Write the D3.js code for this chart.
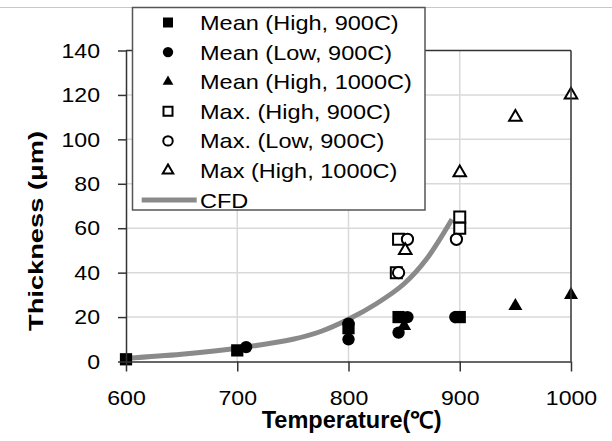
<!DOCTYPE html>
<html>
<head>
<meta charset="utf-8">
<script src="https://cdn.jsdelivr.net/npm/d3@7"></script>
<style>
  html, body { margin: 0; padding: 0; background: #fff; }
  svg { display: block; font-family: "Liberation Sans", Arial, sans-serif; }
</style>
</head>
<body>
<svg id="chart" width="612" height="441"></svg>
<script>
// ---------------- data ----------------
const xTicks = [600, 700, 800, 900, 1000];
const yTicks = [0, 20, 40, 60, 80, 100, 120, 140];

const meanHigh900T = [600, 700, 800, 845, 900];
const meanHigh900V = [1, 5, 15, 20, 20];

const meanLow900T = [708, 800, 800, 845, 853, 896];
const meanLow900V = [6.5, 17, 10, 13, 20, 20];

const meanHigh1000T = [850, 950, 1000];
const meanHigh1000V = [16, 25, 30];

const maxHigh900T = [845, 843, 900, 900];
const maxHigh900V = [55, 40, 65, 60];

const maxLow900T = [853, 845, 897];
const maxLow900V = [55, 40, 55];

const maxHigh1000T = [851, 900, 950, 1000];
const maxHigh1000V = [50, 85, 110, 120];

const cfdT = [600, 650, 700, 750, 775, 800, 825, 850, 870, 893];
const cfdV = [1.5, 3.3, 6, 10, 13.5, 19, 26, 35, 46, 64];

const legendLabels = ["Mean (High, 900C)", "Mean (Low, 900C)", "Mean (High, 1000C)",
                      "Max. (High, 900C)", "Max. (Low, 900C)", "Max (High, 1000C)", "CFD"];

// ---------------- layout ----------------
const svg = d3.select("#chart");
const x = d3.scaleLinear().domain([600, 1000]).range([126, 571]);
const y = d3.scaleLinear().domain([0, 140]).range([361.5, 50.5]);

function stretch(sel, f) {
  sel.each(function () {
    const w = this.getComputedTextLength();
    d3.select(this).attr("textLength", w * f).attr("lengthAdjust", "spacingAndGlyphs");
  });
}

// top thin line
svg.append("line").attr("x1", 0).attr("x2", 612).attr("y1", 7.5).attr("y2", 7.5)
  .attr("stroke", "#c8c8c8").attr("stroke-width", 1);

// gridlines
const grid = svg.append("g");
grid.selectAll(".gy").data(yTicks.filter(d => d > 0 && d < 140)).join("line")
  .attr("x1", x(600)).attr("x2", x(1000)).attr("y1", d => y(d)).attr("y2", d => y(d))
  .attr("stroke", "#d9d9d9").attr("stroke-width", 1.5);
grid.selectAll(".gx").data(xTicks.filter(d => d > 600 && d < 1000)).join("line")
  .attr("y1", y(0)).attr("y2", y(140)).attr("x1", d => x(d)).attr("x2", d => x(d))
  .attr("stroke", "#d9d9d9").attr("stroke-width", 1.5);

// CFD line
const cfd = cfdT.map((t, i) => [t, cfdV[i]]);
svg.append("path").datum(cfd)
  .attr("d", d3.line().x(d => x(d[0])).y(d => y(d[1])).curve(d3.curveCatmullRom))
  .attr("fill", "none").attr("stroke", "#8a8a8a").attr("stroke-width", 5);

// markers
function pts(T, V) { return T.map((t, i) => [t, V[i]]); }
const series = [
  { data: pts(meanLow900T, meanLow900V), type: d3.symbolCircle, size: 120, open: false },
  { data: pts(meanHigh900T, meanHigh900V), type: d3.symbolSquare, size: 150, open: false },
  { data: pts(meanHigh1000T, meanHigh1000V), type: d3.symbolTriangle, size: 85, open: false },
  { data: pts(maxHigh900T, maxHigh900V), type: d3.symbolSquare, size: 121, open: true },
  { data: pts(maxLow900T, maxLow900V), type: d3.symbolCircle, size: 100, open: true },
  { data: pts(maxHigh1000T, maxHigh1000V), type: d3.symbolTriangle, size: 68, open: true }
];
series.forEach(s => {
  svg.append("g").selectAll("path").data(s.data).join("path")
    .attr("transform", d => `translate(${x(d[0])},${y(d[1])})`)
    .attr("d", d3.symbol().type(s.type).size(s.size))
    .attr("fill", s.open ? "#fff" : "#000")
    .attr("stroke", "#000").attr("stroke-width", s.open ? 2 : 0);
});

// plot frame top/right
svg.append("line").attr("x1", x(600)).attr("x2", x(1000)).attr("y1", y(140)).attr("y2", y(140))
  .attr("stroke", "#333").attr("stroke-width", 1.5);
svg.append("line").attr("x1", x(1000)).attr("x2", x(1000)).attr("y1", y(140)).attr("y2", y(0))
  .attr("stroke", "#333").attr("stroke-width", 1.5);

// axes
const fontTick = 21;
const xAxis = svg.append("g").attr("transform", `translate(0,${y(0)})`)
  .call(d3.axisBottom(x).tickValues(xTicks).tickFormat(d3.format("d"))
    .tickSize(10).tickSizeOuter(0).tickPadding(18.6));
const yAxis = svg.append("g").attr("transform", `translate(${x(600)},0)`)
  .call(d3.axisLeft(y).tickValues(yTicks).tickFormat(d3.format("d"))
    .tickSize(8).tickSizeOuter(0).tickPadding(18));
[xAxis, yAxis].forEach(a => {
  a.select(".domain").attr("stroke", "#333").attr("stroke-width", 1.5);
  a.selectAll(".tick line").attr("stroke", "#333").attr("stroke-width", 1.5);
  a.selectAll(".tick text").attr("font-size", fontTick)
    .attr("font-family", "Liberation Sans, Arial, sans-serif").attr("fill", "#000");
});
stretch(xAxis.selectAll(".tick text"), 1.1);
stretch(yAxis.selectAll(".tick text"), 1.1);

// axis titles
const xt = svg.append("text").attr("x", 351.7).attr("y", 428).attr("text-anchor", "middle")
  .attr("font-size", 23).attr("font-weight", "bold").text("Temperature(℃)");
xt.attr("textLength", 180).attr("lengthAdjust", "spacingAndGlyphs");
const yt = svg.append("text").attr("transform", "translate(43,231) rotate(-90)")
  .attr("text-anchor", "middle").attr("font-size", 21).attr("font-weight", "bold")
  .text("Thickness (μm)");
yt.attr("textLength", 200).attr("lengthAdjust", "spacingAndGlyphs");

// legend
const lg = svg.append("g");
lg.append("rect").attr("x", 132.5).attr("y", 7.5).attr("width", 292.5).attr("height", 202.5)
  .attr("fill", "#fff").attr("stroke", "#555").attr("stroke-width", 1.5);
const legSym = [
  { type: d3.symbolSquare, size: 100, open: false },
  { type: d3.symbolCircle, size: 85, open: false },
  { type: d3.symbolTriangle, size: 50, open: false },
  { type: d3.symbolSquare, size: 81, open: true },
  { type: d3.symbolCircle, size: 70, open: true },
  { type: d3.symbolTriangle, size: 48, open: true }
];
const rowY = i => 22.5 + i * 29.6;
legSym.forEach((s, i) => {
  lg.append("path").attr("transform", `translate(168,${rowY(i)})`)
    .attr("d", d3.symbol().type(s.type).size(s.size))
    .attr("fill", s.open ? "#fff" : "#000").attr("stroke", "#000").attr("stroke-width", s.open ? 2 : 0);
});
lg.append("line").attr("x1", 141.7).attr("x2", 196.7).attr("y1", rowY(6)).attr("y2", rowY(6))
  .attr("stroke", "#8a8a8a").attr("stroke-width", 5);
const lt = lg.selectAll("text.leg").data(legendLabels).join("text").attr("class", "leg")
  .attr("x", 200).attr("y", (d, i) => rowY(i) + 7.5)
  .attr("font-size", 21).attr("fill", "#000").text(d => d);
stretch(lt, 1.12);
</script>
</body>
</html>
